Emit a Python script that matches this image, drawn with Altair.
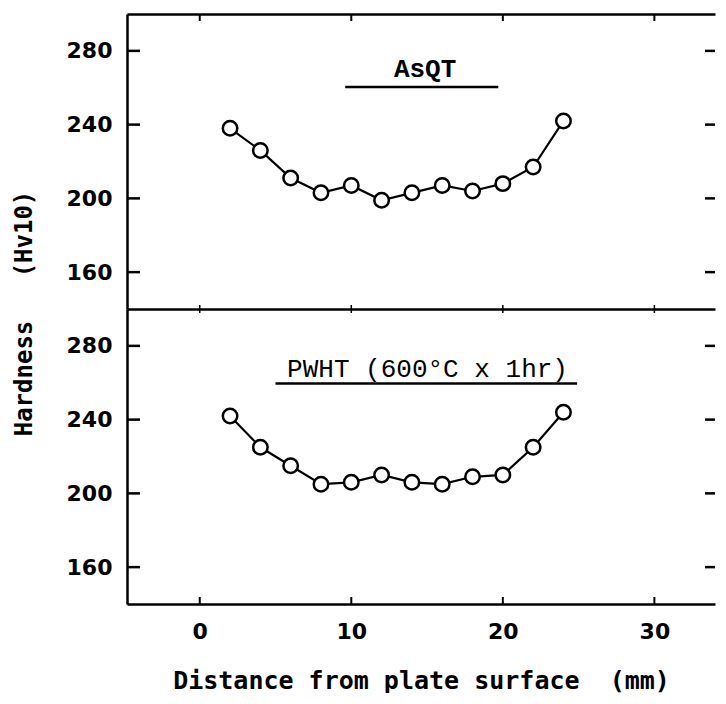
import altair as alt
import pandas as pd

# ---- data ----
distance = [2, 4, 6, 8, 10, 12, 14, 16, 18, 20, 22, 24]
asqt = [238, 226, 211, 203, 207, 199, 203, 207, 204, 208, 217, 242]
pwht = [242, 225, 215, 205, 206, 210, 206, 205, 209, 210, 225, 244]
y_ticks = [160, 200, 240, 280]
x_ticks = [0, 10, 20, 30]

label_text = ["AsQT", "PWHT (600°C x 1hr)"]
label_x = [14.87, 15.03]
label_y = [270.2, 267.7]
label_bold = ["bold", "normal"]
underline_x1 = [9.6, 5.0]
underline_x2 = [19.7, 24.9]
underline_y = [260.4, 259.6]

x_title = "Distance from plate surface\u00a0\u00a0(mm)"
y_title = "Hardness\u00a0\u00a0\u00a0(Hv10)"

W, H = 588, 295
SANS = "DejaVu Sans"
MONO = "Liberation Mono"
TITLE_MONO = "DejaVu Sans Mono"

xs = alt.Scale(domain=[-4.8, 34.0], nice=False, zero=False)
ys = alt.Scale(domain=[140, 300], nice=False, zero=False)


def make_yaxis(with_title):
    kw = dict(values=y_ticks, ticks=False, tickSize=0, labelPadding=15,
              labelFont=SANS, labelFontSize=22, labelFontWeight="bold",
              labelColor="black", domainColor="black", domainWidth=2.5,
              grid=False)
    if with_title:
        kw.update(title=y_title, titleFont=TITLE_MONO, titleFontSize=24,
                  titleFontWeight="bold", titleColor="black", titleAngle=270,
                  titleAlign="center", titleBaseline="middle",
                  titleX=-103, titleY=299)
    else:
        kw.update(title=None)
    return alt.Axis(**kw)


def panel(values, idx, top):
    df = pd.DataFrame({"d": distance, "h": values})
    yt = pd.DataFrame({"v": y_ticks})
    xt = pd.DataFrame({"v": x_ticks})
    lab = pd.DataFrame({"x": [label_x[idx]], "y": [label_y[idx]],
                        "t": [label_text[idx]]})
    ul = pd.DataFrame({"x1": [underline_x1[idx]], "x2": [underline_x2[idx]],
                       "y": [underline_y[idx]]})

    yaxis = make_yaxis(top)

    if top:
        main_xaxis = alt.Axis(orient="top", labels=False, ticks=False,
                              title=None, domainColor="black",
                              domainWidth=2.5, grid=False)
        other_xaxis = None
    else:
        main_xaxis = alt.Axis(orient="bottom", values=x_ticks, ticks=False,
                              tickSize=0, labelPadding=17, labelFont=SANS,
                              labelFontSize=22, labelFontWeight="bold",
                              labelColor="black", domainColor="black",
                              domainWidth=2.5, grid=False, title=x_title,
                              titleFont=TITLE_MONO, titleFontSize=25,
                              titleFontWeight="bold", titleColor="black",
                              titlePadding=26)
        other_xaxis = main_xaxis

    def X(field, axis=other_xaxis):
        return alt.X(f"{field}:Q", scale=xs, axis=axis)

    def Y(field):
        return alt.Y(f"{field}:Q", scale=ys, axis=yaxis)

    line = alt.Chart(df).mark_line(color="black", strokeWidth=2.2).encode(
        x=X("d", main_xaxis), y=Y("h"))
    pts = alt.Chart(df).mark_point(shape="circle", size=210, filled=True,
                                   fill="white", stroke="black",
                                   strokeWidth=2.5, opacity=1).encode(
        x=X("d"), y=Y("h"))
    left_ticks = alt.Chart(yt).mark_rule(color="black", strokeWidth=2.5).encode(
        y=Y("v"), x=alt.value(0), x2=alt.value(13))
    right_ticks = alt.Chart(yt).mark_rule(color="black", strokeWidth=2.5).encode(
        y=Y("v"), x=alt.value(W - 10), x2=alt.value(W))
    text = alt.Chart(lab).mark_text(font=MONO, fontSize=26,
                                    fontWeight=label_bold[idx], color="black",
                                    align="center", baseline="middle").encode(
        x=X("x"), y=Y("y"), text="t:N")
    uline = alt.Chart(ul).mark_rule(color="black", strokeWidth=2.5).encode(
        x=X("x1"), x2="x2:Q", y=Y("y"))

    if top:
        top_ticks = alt.Chart(xt).mark_rule(color="black", strokeWidth=2).encode(
            x=X("v"), y=alt.value(0), y2=alt.value(7))
        div_xaxis = alt.Axis(orient="bottom", labels=False, ticks=False,
                             title=None, domainColor="black",
                             domainWidth=2.5, grid=False)
        div_ticks = alt.Chart(xt).mark_rule(color="black", strokeWidth=1.5).encode(
            x=alt.X("v:Q", scale=xs, axis=div_xaxis),
            y=alt.value(H - 4), y2=alt.value(H))
        ch = alt.layer(line, pts, left_ticks, right_ticks, top_ticks,
                       div_ticks, text, uline).resolve_axis(x="independent")
    else:
        up_ticks = alt.Chart(xt).mark_rule(color="black", strokeWidth=1.5).encode(
            x=X("v"), y=alt.value(0), y2=alt.value(4))
        bot_ticks = alt.Chart(xt).mark_rule(color="black", strokeWidth=2).encode(
            x=X("v"), y=alt.value(H - 7), y2=alt.value(H))
        ch = alt.layer(line, pts, left_ticks, right_ticks, up_ticks,
                       bot_ticks, text, uline)
    return ch.properties(width=W, height=H)


chart = alt.vconcat(panel(asqt, 0, True), panel(pwht, 1, False),
                    spacing=0, bounds="flush").properties(
    padding={"left": 4, "top": 5, "right": 0, "bottom": 0},
    background="white",
).configure_view(stroke=None)

chart.save("out.html", embed_options={"renderer": "svg", "actions": False})
